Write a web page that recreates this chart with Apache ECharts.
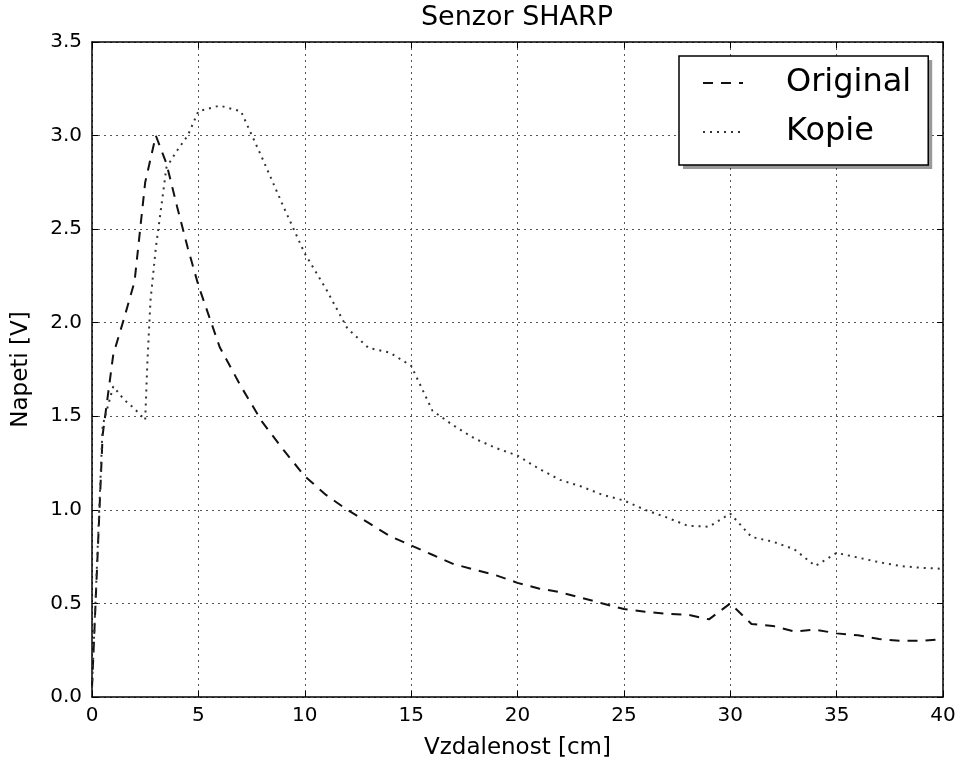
<!DOCTYPE html>
<html>
<head>
<meta charset="utf-8">
<script src="https://cdn.jsdelivr.net/npm/echarts@6/dist/echarts.min.js"></script>
<style>html,body{margin:0;padding:0;background:#fff;}#c{width:960px;height:767px;}</style>
</head>
<body>
<div id="c"></div>
<script>
// Data
const titleText = 'Senzor SHARP';
const xName = 'Vzdalenost [cm]';
const yName = 'Napeti [V]';
const originalName = 'Original';
const kopieName = 'Kopie';

const originalDist = [0, 0.5, 1, 1.5, 2, 2.5, 3, 3.5, 4, 4.5, 5, 6, 7, 8, 9, 10, 11, 12, 13, 14, 15, 16, 17, 18, 19, 20, 21, 22, 23, 24, 25, 26, 27, 28, 29, 30, 31, 32, 33, 34, 35, 36, 37, 38, 39, 40];
const originalVolt = [0.05, 1.4, 1.83, 2.02, 2.22, 2.75, 3.0, 2.85, 2.62, 2.4, 2.2, 1.87, 1.66, 1.47, 1.32, 1.18, 1.08, 1.0, 0.93, 0.86, 0.81, 0.76, 0.71, 0.68, 0.65, 0.61, 0.58, 0.56, 0.53, 0.50, 0.47, 0.455, 0.445, 0.44, 0.415, 0.50, 0.39, 0.38, 0.35, 0.36, 0.34, 0.33, 0.31, 0.30, 0.30, 0.31];

const kopieDist = [0, 0.5, 1, 1.5, 2, 2.5, 2.6, 2.75, 3, 3.5, 4, 4.5, 5, 6, 7, 8, 9, 10, 11, 12, 13, 14, 15, 16, 17, 18, 19, 20, 21, 22, 23, 24, 25, 26, 27, 28, 29, 30, 31, 32, 33, 34, 35, 36, 37, 38, 39, 40];
const kopieVolt = [0.05, 1.45, 1.66, 1.59, 1.54, 1.48, 1.78, 2.12, 2.4, 2.83, 2.92, 3.0, 3.13, 3.16, 3.13, 2.88, 2.62, 2.37, 2.18, 1.97, 1.865, 1.84, 1.77, 1.53, 1.45, 1.38, 1.33, 1.29, 1.22, 1.16, 1.125, 1.08, 1.05, 1.0, 0.96, 0.915, 0.91, 0.98, 0.855, 0.83, 0.79, 0.70, 0.77, 0.745, 0.72, 0.70, 0.69, 0.685];

const xTicks = {min: 0, max: 40, interval: 5};
const yTicks = {min: 0, max: 3.5, interval: 0.5};

const pair = (xs, ys) => xs.map((x, i) => [x, ys[i]]);
const FONT = 'DejaVu Sans';

const chart = echarts.init(document.getElementById('c'), null, {renderer: 'canvas'});
const frameLine = {show: true, onZero: false, lineStyle: {color: '#000', width: 1.5}};
const tickIn = {show: true, inside: true, length: 6, lineStyle: {color: '#000', width: 1}};
const grid = {show: true, lineStyle: {color: '#555', width: 1, type: [2, 4]}};

const legendBase = {
  orient: 'vertical', left: 679, top: 56,
  padding: [10, 17, 16, 23],
  itemWidth: 40, itemHeight: 20, itemGap: 15,
  borderRadius: 0,
  selectedMode: false,
  data: [originalName, kopieName]
};

chart.setOption({
  animation: false,
  backgroundColor: '#fff',
  textStyle: {fontFamily: FONT},
  title: {
    text: titleText, left: 517, top: 4, textAlign: 'center', padding: 0,
    textStyle: {fontFamily: FONT, fontSize: 27, fontWeight: 'normal', color: '#000'}
  },
  grid: {left: 92, right: 17, top: 42, bottom: 70, containLabel: false},
  legend: [Object.assign({}, legendBase, {
    z: 2,
    backgroundColor: '#fff', borderWidth: 0,
    shadowColor: 'rgba(0,0,0,0.4)', shadowOffsetX: 4, shadowOffsetY: 4, shadowBlur: 0,
    itemStyle: {opacity: 0}, lineStyle: {opacity: 0},
    textStyle: {fontFamily: FONT, fontSize: 32, color: 'rgba(0,0,0,0)', lineHeight: 34, padding: [0, 0, 0, 38]}
  }), Object.assign({}, legendBase, {
    z: 3,
    backgroundColor: 'rgba(0,0,0,0)', borderColor: '#000', borderWidth: 1.5,
    itemStyle: {opacity: 0},
    textStyle: {fontFamily: FONT, fontSize: 32, color: '#000', lineHeight: 34, padding: [0, 0, 0, 38]}
  })],
  xAxis: [{
    type: 'value', position: 'bottom', min: xTicks.min, max: xTicks.max, interval: xTicks.interval,
    name: xName, nameLocation: 'middle', nameGap: 40,
    nameTextStyle: {fontFamily: FONT, fontSize: 23, color: '#000'},
    axisLine: frameLine, axisTick: tickIn, splitLine: grid,
    axisLabel: {fontFamily: FONT, fontSize: 20, color: '#000', margin: 9}
  }, {
    type: 'value', position: 'top', min: xTicks.min, max: xTicks.max, interval: xTicks.interval,
    axisLine: frameLine, axisTick: tickIn, splitLine: {show: false}, axisLabel: {show: false}
  }],
  yAxis: [{
    type: 'value', position: 'left', min: yTicks.min, max: yTicks.max, interval: yTicks.interval,
    name: yName, nameLocation: 'middle', nameGap: 59,
    nameTextStyle: {fontFamily: FONT, fontSize: 23, color: '#000'},
    axisLine: frameLine, axisTick: tickIn, splitLine: grid,
    axisLabel: {fontFamily: FONT, fontSize: 20, color: '#000', margin: 10, formatter: v => v.toFixed(1)}
  }, {
    type: 'value', position: 'right', min: yTicks.min, max: yTicks.max, interval: yTicks.interval,
    axisLine: frameLine, axisTick: tickIn, splitLine: {show: false}, axisLabel: {show: false}
  }],
  series: [{
    name: originalName, type: 'line', xAxisIndex: 0, yAxisIndex: 0,
    data: pair(originalDist, originalVolt), symbol: 'none',
    lineStyle: {color: '#111', width: 2, type: [10, 8]},
    itemStyle: {color: '#111'}
  }, {
    name: kopieName, type: 'line', xAxisIndex: 0, yAxisIndex: 0,
    data: pair(kopieDist, kopieVolt), symbol: 'none',
    lineStyle: {color: '#333', width: 2, type: [2, 5]},
    itemStyle: {color: '#333'}
  }]
});
</script>
</body>
</html>
